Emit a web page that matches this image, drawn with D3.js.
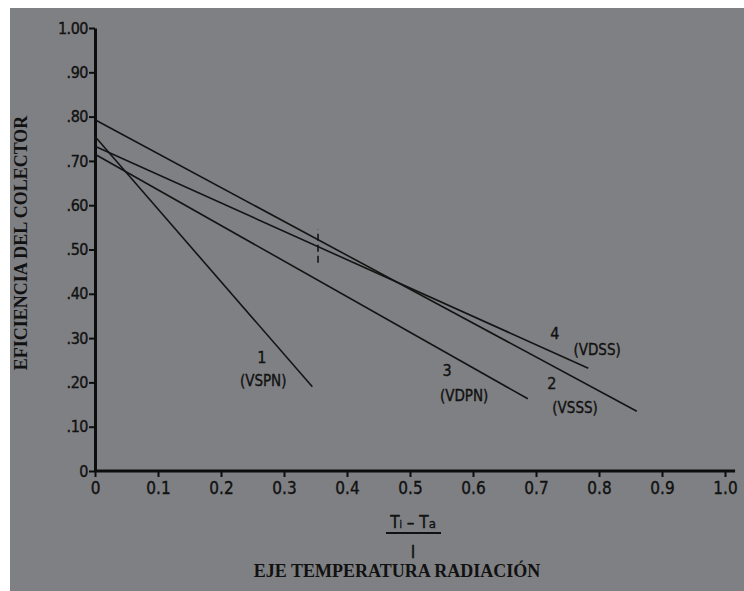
<!DOCTYPE html>
<html lang="es">
<head>
<meta charset="utf-8">
<title>Eficiencia del colector</title>
<script src="https://d3js.org/d3.v7.min.js"></script>
<style>
  body { margin: 0; background: #fff; }
  text { fill: #111; }
  .narrow { font-family: "DejaVu Sans Condensed", "DejaVu Sans", sans-serif; font-stretch: condensed; stroke: #111; stroke-width: 0.35px; }
  .serif { font-family: "Liberation Serif", "Times New Roman", serif; font-weight: bold; }
</style>
</head>
<body>
<script>
// ---- data ----
var series = ["1", "2", "3", "4"];
var seriesNames = ["(VSPN)", "(VSSS)", "(VDPN)", "(VDSS)"];
// start / end points of each straight line: [x, eficiencia]
var startPts = [[0, 0.755], [0, 0.793], [0, 0.715], [0, 0.733]];
var endPts = [[0.345, 0.19], [0.86, 0.135], [0.687, 0.163], [0.783, 0.232]];
// small dashed mark across lines 2 and 4
var markX = 0.354;
var markY = [0.47, 0.545];

var yTicks = [0, 0.1, 0.2, 0.3, 0.4, 0.5, 0.6, 0.7, 0.8, 0.9, 1.0];
var xTicks = [0, 0.1, 0.2, 0.3, 0.4, 0.5, 0.6, 0.7, 0.8, 0.9, 1.0];
var yTickLabels = ["0", ".10", ".20", ".30", ".40", ".50", ".60", ".70", ".80", ".90", "1.00"];
var xTickLabels = ["0", "0.1", "0.2", "0.3", "0.4", "0.5", "0.6", "0.7", "0.8", "0.9", "1.0"];

// label positions in data units (number above, name below)
var labelAt = [[0.265, 0.244], [0.725, 0.185], [0.559, 0.214], [0.730, 0.298]];
var nameAt = [[0.267, 0.192], [0.762, 0.131], [0.586, 0.158], [0.797, 0.262]];

var width = 744, height = 591;

var svg = d3.select("body").append("svg")
  .attr("width", width)
  .attr("height", height);

// scanned page background
svg.append("rect")
  .attr("x", 10).attr("y", 8)
  .attr("width", width - 10).attr("height", height - 8)
  .attr("fill", "#7f8083");

var x = d3.scaleLinear().domain([0, 1]).range([95, 725]);
var y = d3.scaleLinear().domain([0, 1]).range([471, 28]);

// y axis
var yAxis = d3.axisLeft(y)
  .tickValues(yTicks)
  .tickFormat(function(d, i) { return yTickLabels[i]; })
  .tickSize(6)
  .tickSizeOuter(0)
  .tickPadding(1);

var gy = svg.append("g")
  .attr("transform", "translate(" + x(0) + ",0)")
  .call(yAxis);
gy.select(".domain").attr("stroke", "#0d0d0d").attr("stroke-width", 3);
gy.selectAll(".tick line").attr("stroke", "#0d0d0d").attr("stroke-width", 2);
gy.selectAll(".tick text")
  .attr("class", "narrow")
  .style("font-size", "16px")
  .style("letter-spacing", "-0.5px")
  .attr("fill", "#111");

// x axis
var xAxis = d3.axisBottom(x)
  .tickValues(xTicks)
  .tickFormat(function(d, i) { return xTickLabels[i]; })
  .tickSize(6)
  .tickSizeOuter(0)
  .tickPadding(5);

var gx = svg.append("g")
  .attr("transform", "translate(0," + y(0) + ")")
  .call(xAxis);
gx.select(".domain").remove();
gx.selectAll(".tick line").attr("stroke", "#0d0d0d").attr("stroke-width", 2);
gx.selectAll(".tick text")
  .attr("class", "narrow")
  .style("font-size", "17px")
  .attr("fill", "#111");

// x axis line runs a little past 1.0
svg.append("line")
  .attr("x1", x(0)).attr("x2", x(1.016))
  .attr("y1", y(0)).attr("y2", y(0))
  .attr("stroke", "#0d0d0d").attr("stroke-width", 3);

// efficiency lines
var lines = series.map(function(s, i) {
  return { id: s, name: seriesNames[i], pts: [startPts[i], endPts[i]] };
});

var line = d3.line()
  .x(function(d) { return x(d[0]); })
  .y(function(d) { return y(d[1]); });

svg.selectAll(".eff")
  .data(lines)
  .enter().append("path")
  .attr("class", "eff")
  .attr("d", function(d) { return line(d.pts); })
  .attr("fill", "none")
  .attr("stroke", "#141414")
  .attr("stroke-width", 1.6);

// dashed mark
svg.append("line")
  .attr("x1", x(markX)).attr("x2", x(markX))
  .attr("y1", y(markY[0])).attr("y2", y(markY[1]))
  .attr("stroke", "#141414")
  .attr("stroke-width", 1.6)
  .attr("stroke-dasharray", "7,4");

// line labels
svg.selectAll(".num")
  .data(lines)
  .enter().append("text")
  .attr("class", "narrow")
  .attr("x", function(d, i) { return x(labelAt[i][0]); })
  .attr("y", function(d, i) { return y(labelAt[i][1]); })
  .attr("text-anchor", "middle")
  .style("font-size", "16px")
  .text(function(d) { return d.id; });

svg.selectAll(".nm")
  .data(lines)
  .enter().append("text")
  .attr("class", "narrow")
  .attr("x", function(d, i) { return x(nameAt[i][0]); })
  .attr("y", function(d, i) { return y(nameAt[i][1]); })
  .attr("text-anchor", "middle")
  .style("font-size", "15px")
  .text(function(d) { return d.name; });

// y title
svg.append("text")
  .attr("class", "serif")
  .attr("transform", "translate(27,243) rotate(-90)")
  .attr("text-anchor", "middle")
  .style("font-size", "18px")
  .text("EFICIENCIA DEL COLECTOR");

// x title: fraction (Ti - Ta) / I
var frac = svg.append("g").attr("transform", "translate(413,0)");
var num = frac.append("text")
  .attr("class", "narrow")
  .attr("y", 528)
  .attr("text-anchor", "middle")
  .style("font-size", "17px");
num.append("tspan").text("T");
num.append("tspan").style("font-size", "10px").text("i");
num.append("tspan").text(" \u2013 T");
num.append("tspan").style("font-size", "13px").text("a");

frac.append("line")
  .attr("x1", -27).attr("x2", 28)
  .attr("y1", 533).attr("y2", 533)
  .attr("stroke", "#111").attr("stroke-width", 2);

frac.append("text")
  .attr("class", "narrow")
  .attr("y", 558)
  .attr("text-anchor", "middle")
  .style("font-size", "17px")
  .text("I");

svg.append("text")
  .attr("class", "serif")
  .attr("x", 397)
  .attr("y", 577)
  .attr("text-anchor", "middle")
  .style("font-size", "18px")
  .text("EJE TEMPERATURA RADIACIÓN");
</script>
</body>
</html>
